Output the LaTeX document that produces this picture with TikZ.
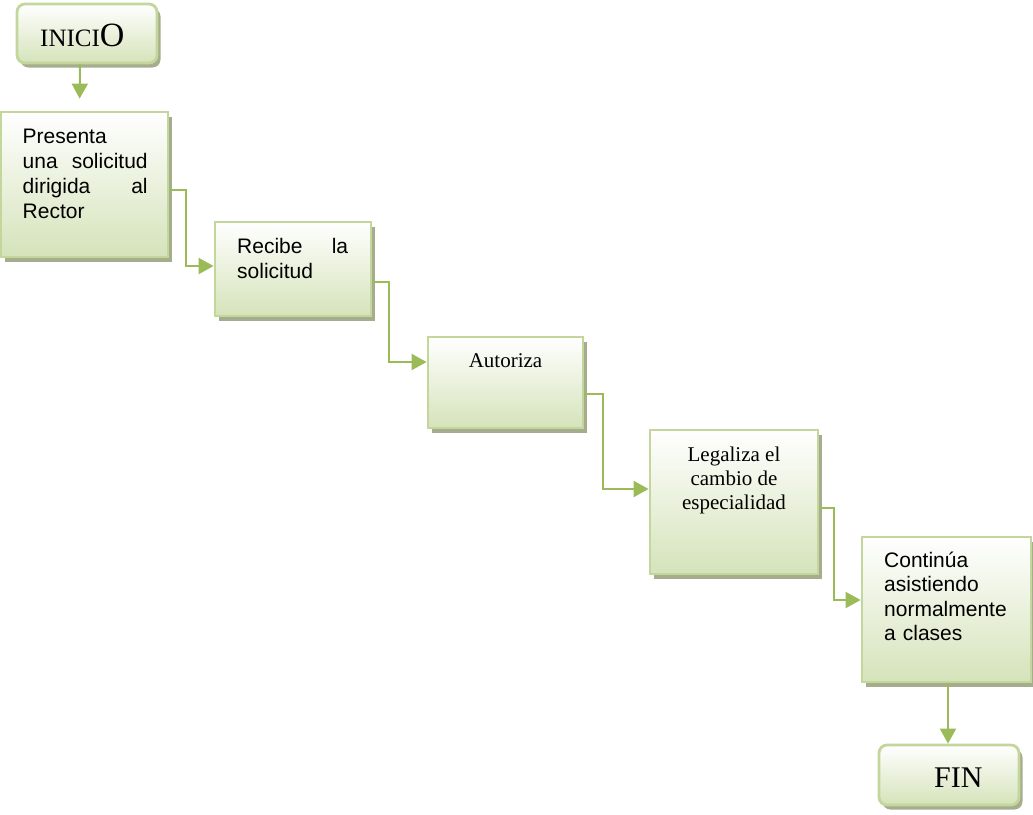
\documentclass[tikz,border=0pt]{standalone}
\usepackage{fontspec}
\setmainfont{Liberation Serif}
\newfontfamily\arialf{Liberation Sans}
\usetikzlibrary{arrows.meta,shadows}
\definecolor{connc}{HTML}{9BBB59}
\definecolor{borderc}{HTML}{C3D69B}
\definecolor{fillc}{HTML}{D5E3BA}
\definecolor{shadc}{RGB}{165,173,140}
\tikzset{
  box/.style={draw=borderc, line width=2.8pt, top color=white, bottom color=fillc,
    general shadow={fill=shadc, shadow xshift=3.5pt, shadow yshift=-4.5pt}, inner sep=0pt},
  rbox/.style={box, rounded corners=8pt},
  conn/.style={draw=connc, line width=2pt, -{Triangle[length=15pt,width=16pt]}},
  atext/.style={font=\arialf\fontsize{21}{25}\selectfont, inner sep=0pt, anchor=north west, align=left},
  ttext/.style={font=\fontsize{21}{24}\selectfont, inner sep=0pt, align=center},
}
\begin{document}
\begin{tikzpicture}[x=1pt,y=-1pt]
\useasboundingbox (0,0) rectangle (1033,814);
% boxes
\node[rbox, minimum width=140pt, minimum height=59pt] (ini) at (87,33.5) {};
\node[box, minimum width=167pt, minimum height=145pt] (b1) at (84.5,184.5) {};
\node[box, minimum width=156pt, minimum height=94pt] (b2) at (293,269) {};
\node[box, minimum width=155pt, minimum height=91pt] (b3) at (505.5,382.5) {};
\node[box, minimum width=168pt, minimum height=144pt] (b4) at (734,502) {};
\node[box, minimum width=169pt, minimum height=145pt] (b5) at (946.5,609.5) {};
\node[rbox, minimum width=140pt, minimum height=60pt] (fin) at (949,775) {};
% texts
\node[anchor=base west, inner sep=0pt] (tini) at (40,46)
  {\fontsize{25}{28}\selectfont INICI\fontsize{34}{36}\selectfont O};
\node[atext, text width=125pt] (t1) at (22.5,126)
  {\parindent=0pt\rule{0pt}{17pt}Presenta\\una\hfill solicitud\\dirigida\hfill al\\Rector};
\node[atext, text width=111pt] (t2) at (237,236)
  {\parindent=0pt\rule{0pt}{17pt}Recibe\hfill la\\solicitud};
\node[ttext, anchor=base] (t3) at (505.5,367) {Autoriza};
\node[ttext, anchor=north] (t4) at (734,444)
  {\rule{0pt}{17pt}Legaliza el\\cambio de\\especialidad};
\node[atext, text width=130pt, font=\arialf\fontsize{21}{24.5}\selectfont] (t5) at (884,550)
  {\parindent=0pt\rule{0pt}{17pt}Continúa\\asistiendo\\normalmente\\a clases};
\node[anchor=base west, inner sep=0pt, font=\fontsize{30}{34}\selectfont] (tfin) at (934,787) {FIN};
% connectors
\draw[conn, shorten >=12pt] ([xshift=-7pt]ini.south) -- ([xshift=-5pt]b1.north);
\draw[conn] ([yshift=-5.5pt]b1.east) -- ++(17,0) |- ([yshift=3pt]b2.west);
\draw[conn] ([yshift=-13pt]b2.east) -- ++(17,0) |- ([yshift=20.5pt]b3.west);
\draw[conn] ([yshift=-11.5pt]b3.east) -- ++(19,0) |- ([yshift=13pt]b4.west);
\draw[conn] ([yshift=-6pt]b4.east) -- ++(15,0) |- ([yshift=9.5pt]b5.west);
\draw[conn] ([xshift=1.5pt]b5.south) -- ([xshift=-1pt]fin.north);
\end{tikzpicture}
\end{document}
